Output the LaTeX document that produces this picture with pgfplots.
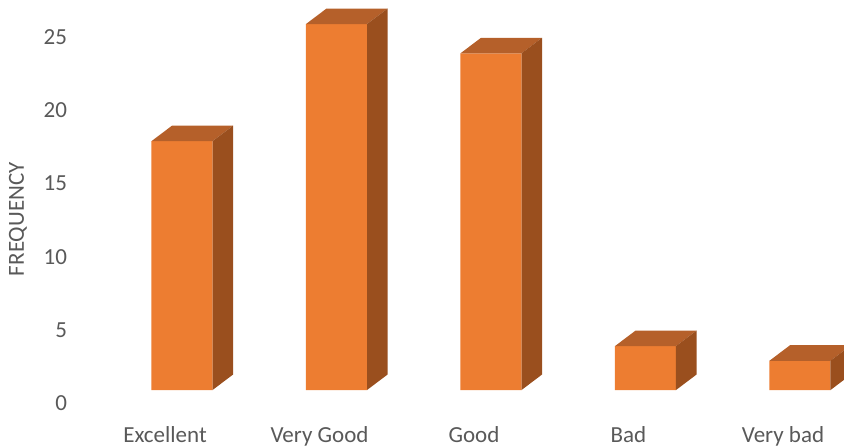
\documentclass[border=0pt]{standalone}
\usepackage{pgfplots}
\pgfplotsset{compat=1.18}
\usepackage{fontspec}
\setmainfont{Carlito}
\definecolor{front}{HTML}{ED7D31}
\definecolor{topc}{HTML}{B5602A}
\definecolor{side}{HTML}{9A4F1E}
\definecolor{txt}{HTML}{595959}
\newcommand\cube[2]{%
 \pgfmathsetmacro\xl{#1-0.1975}\pgfmathsetmacro\xr{#1+0.1975}%
 \pgfmathsetmacro\xlb{\xl+0.133}\pgfmathsetmacro\xrb{\xr+0.133}%
 \pgfmathsetmacro\yt{#2+1.06}%
 \edef\temp{\noexpand\addplot[sharp plot, fill=topc,draw=none] coordinates {(\xl,#2) (\xr,#2) (\xrb,\yt) (\xlb,\yt)} -- cycle;
 \noexpand\addplot[sharp plot, fill=side,draw=none] coordinates {(\xr,0) (\xrb,1.06) (\xrb,\yt) (\xr,#2)} -- cycle;}%
 \temp}
\begin{document}
\begin{tikzpicture}
\begin{axis}[
 scale only axis, width=386pt, height=209.35pt,
 xmin=-0.712, xmax=4.285, ymin=-2, ymax=26.6,
 axis line style={draw=none},
 tick style={draw=none}, major tick length=0pt,
 xtick={0,1,2,3,4},
 xticklabels={Excellent,Very Good,Good,Bad,Very bad},
 ytick={0,5,10,15,20,25},
 /pgf/number format/assume math mode=true,
 ticklabel style={font=\fontsize{11.5}{13}\selectfont, text=txt},
 yticklabel style={yshift=-6.5pt, xshift=1pt},
 xticklabel style={xshift=-8.5pt},
 ylabel={FREQUENCY},
 ylabel style={font=\fontsize{11.5}{13}\selectfont, text=txt, at={(axis description cs:-0.07,0.478)}, anchor=center},
]
\addplot[ybar, bar width=0.395, fill=front, draw=none] coordinates {(0,17) (1,25) (2,23) (3,3) (4,2)};
\cube{0}{17}
\cube{1}{25}
\cube{2}{23}
\cube{3}{3}
\cube{4}{2}
\end{axis}
\pgfresetboundingbox
\path ([xshift=-36pt,yshift=-13.85pt]current axis.south west) rectangle ([yshift=0.3pt]current axis.north east);
\end{tikzpicture}
\end{document}
